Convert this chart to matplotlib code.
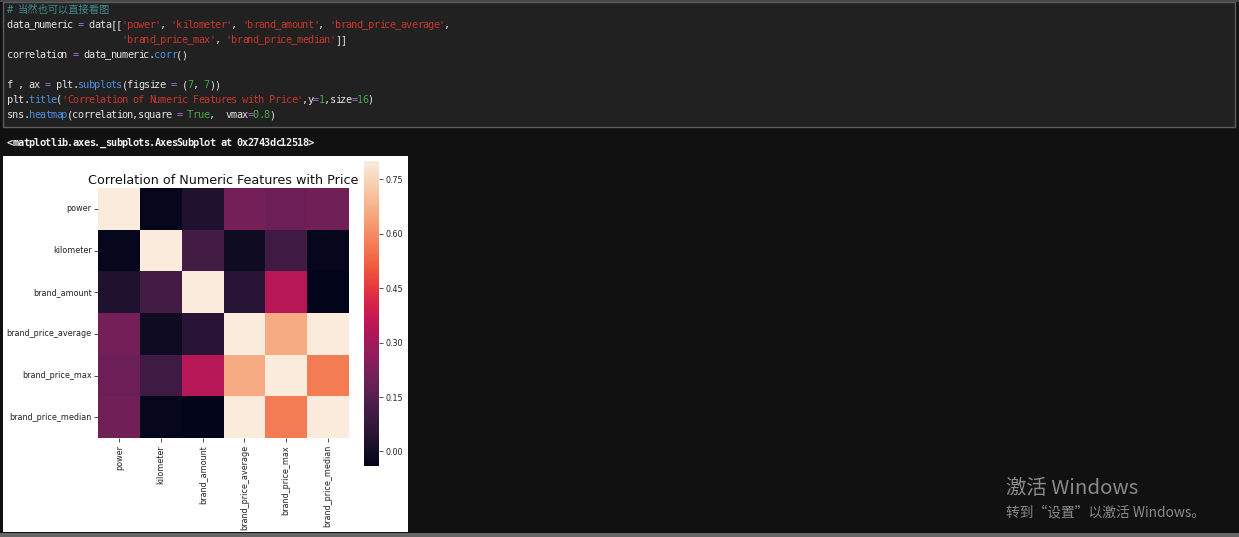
"""Jupyter 截图复刻 - 数值特征相关性热力图"""
import matplotlib
matplotlib.use('Agg')
import matplotlib.pyplot as plt
from matplotlib.patches import Rectangle
import pandas as pd
import seaborn as sns

# 相关系数（按颜色估读）
features = ['power', 'kilometer', 'brand_amount', 'brand_price_average',
            'brand_price_max', 'brand_price_median']
corr_power = [1.00, -0.03, 0.03, 0.21, 0.19, 0.20]
corr_kilometer = [-0.03, 1.00, 0.11, -0.01, 0.10, -0.03]
corr_brand_amount = [0.03, 0.11, 1.00, 0.05, 0.34, -0.04]
corr_price_average = [0.21, -0.01, 0.05, 1.00, 0.66, 0.96]
corr_price_max = [0.19, 0.10, 0.34, 0.66, 1.00, 0.57]
corr_price_median = [0.20, -0.03, -0.04, 0.96, 0.57, 1.00]
cbar_ticks = [0.00, 0.15, 0.30, 0.45, 0.60, 0.75]

title_text = 'Correlation of Numeric Features with Price'
output_text = '<matplotlib.axes._subplots.AxesSubplot at 0x2743dc12518>'

# 代码单元格的颜色
W_C = '#e2e2e2'
OP_C = '#b070d8'
STR_C = '#c8352c'
FN_C = '#4a8fdc'
NUM_C = '#45a845'
COM_C = '#3f8d8d'

code_lines = [
    [('# ', COM_C)],
    [('data_numeric ', W_C), ('=', OP_C), (' data[[', W_C), ("'power'", STR_C), (', ', W_C),
     ("'kilometer'", STR_C), (', ', W_C), ("'brand_amount'", STR_C), (', ', W_C),
     ("'brand_price_average'", STR_C), (',', W_C)],
    [(' ' * 21, W_C), ("'brand_price_max'", STR_C), (', ', W_C), ("'brand_price_median'", STR_C),
     (']]', W_C)],
    [('correlation ', W_C), ('=', OP_C), (' data_numeric.', W_C), ('corr', FN_C), ('()', W_C)],
    [],
    [('f , ax ', W_C), ('=', OP_C), (' plt.', W_C), ('subplots', FN_C), ('(figsize ', W_C),
     ('=', OP_C), (' (', W_C), ('7', NUM_C), (', ', W_C), ('7', NUM_C), ('))', W_C)],
    [('plt.', W_C), ('title', FN_C), ('(', W_C), ("'" + title_text + "'", STR_C), (',y', W_C),
     ('=', OP_C), ('1', NUM_C), (',size', W_C), ('=', OP_C), ('16', NUM_C), (')', W_C)],
    [('sns.', W_C), ('heatmap', FN_C), ('(correlation,square ', W_C), ('=', OP_C), (' ', W_C),
     ('True', NUM_C), (',  vmax', W_C), ('=', OP_C), ('0.8', NUM_C), (')', W_C)],
]
line_y = [10, 25, 40, 55, 70, 85, 100, 115]

W, H = 1239, 537
fig = plt.figure(figsize=(W / 100, H / 100), dpi=100, facecolor='#111111')

# 背景层（像素坐标）
bg = fig.add_axes([0, 0, 1, 1], zorder=-1)
bg.set_xlim(0, W)
bg.set_ylim(H, 0)
bg.axis('off')

bg.add_patch(Rectangle((0, 0), W, 2, facecolor='#474747', edgecolor='none'))
bg.add_patch(Rectangle((3, 2), 1232, 125, facecolor='#212121', edgecolor='#5c5c5c', lw=1))
bg.add_patch(Rectangle((3, 156), 405, 376, facecolor='white', edgecolor='none'))
bg.add_patch(Rectangle((0, 533), W, 4, facecolor='#666666', edgecolor='none'))

pitch = 5.47
x0 = 7


def draw_mono(x_start, y, txt, color, weight='normal'):
    # 等宽字符逐个放置，保证字距与原图一致
    for i, ch in enumerate(txt):
        if ch == ' ':
            continue
        bg.text(x_start + (i + 0.5) * pitch, y, ch, color=color, fontsize=7.4,
                family='DejaVu Sans Mono', va='center', ha='center', fontweight=weight)


for tokens, y in zip(code_lines, line_y):
    col = 0
    for txt, color in tokens:
        draw_mono(x0 + col * pitch, y, txt, color)
        col += len(txt)
# 注释里的中文
bg.text(x0 + 2 * pitch, line_y[0], '当然也可以直接看图', color=COM_C, fontsize=7.4,
        family=['Noto Sans CJK SC', 'DejaVu Sans'], va='center', ha='left')

draw_mono(x0, 143, output_text, '#f0f0f0', weight='bold')

# Windows 水印
bg.text(1006, 489, '激活 Windows', color='#8a8a8a', fontsize=14.7,
        family=['Noto Sans CJK SC', 'DejaVu Sans'], va='center', ha='left')
bg.text(1006, 512, '转到“设置”以激活 Windows。', color='#8a8a8a', fontsize=9.9,
        family=['Noto Sans CJK SC', 'DejaVu Sans'], va='center', ha='left')

# 热力图
correlation = pd.DataFrame([corr_power, corr_kilometer, corr_brand_amount,
                            corr_price_average, corr_price_max, corr_price_median],
                           index=features, columns=features)

ax = fig.add_axes([98 / W, (H - 438) / H, 251 / W, 250 / H])
cax = fig.add_axes([364 / W, (H - 466) / H, 15 / W, 305 / H])
sns.heatmap(correlation, square=True, vmax=0.8, ax=ax, cbar_ax=cax,
            cbar_kws={'ticks': cbar_ticks})

ax.set_title(title_text, fontsize=9.2, pad=3, color='#111111')
ax.set_yticklabels(features, rotation=0)
ax.set_xticklabels(features, rotation=90)
ax.tick_params(labelsize=5.8, length=3, width=0.6, pad=2, colors='#333333', labelcolor='#222222')
cax.set_yticklabels(['%.2f' % t for t in cbar_ticks])
cax.tick_params(labelsize=5.7, length=3, width=0.6, pad=2, colors='#333333', labelcolor='#222222')

plt.savefig('out.png', dpi=100, facecolor=fig.get_facecolor())
plt.close()
